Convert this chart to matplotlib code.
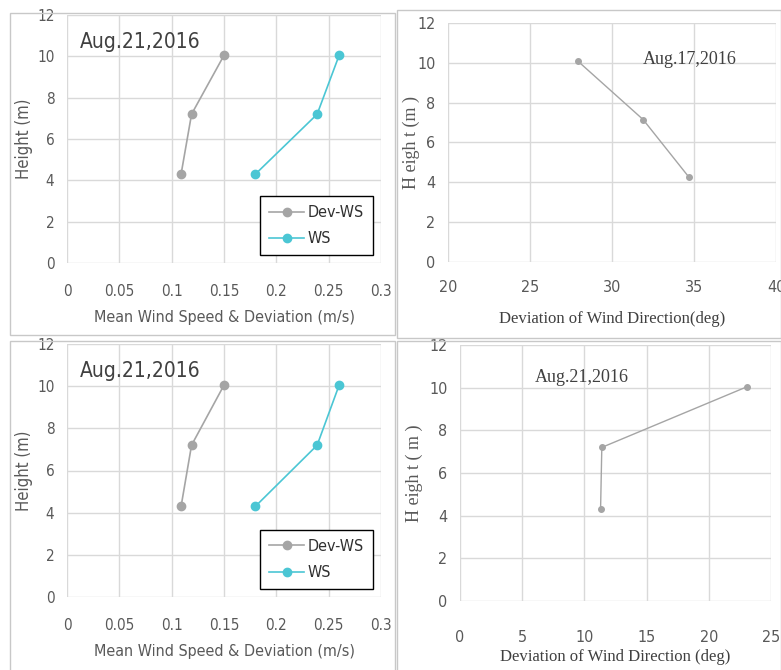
import matplotlib
matplotlib.use("Agg")
import matplotlib.pyplot as plt
from matplotlib.patches import Rectangle

# wind speed profiles (left panels)
heights = [4.3, 7.2, 10.05]
dev_ws = [0.109, 0.119, 0.150]
ws = [0.180, 0.239, 0.260]

# wind direction deviation (right panels)
dir_heights_0817 = [10.1, 7.15, 4.25]
dir_dev_0817 = [27.9, 31.9, 34.7]
dir_heights_0821 = [4.3, 7.2, 10.05]
dir_dev_0821 = [11.3, 11.4, 23.1]

ws_ticks = [0, 0.05, 0.1, 0.15, 0.2, 0.25, 0.3]
ws_ticklabels = ["0", "0.05", "0.1", "0.15", "0.2", "0.25", "0.3"]
h_ticks = [0, 2, 4, 6, 8, 10, 12]

NARROW = ["DejaVu Sans", "Liberation Sans"]
SERIF = ["Liberation Serif", "DejaVu Serif"]
GRAY = "#a5a5a5"
CYAN = "#4bc6d4"
GRID = "#d9d9d9"
TXT = "#595959"

fig = plt.figure(figsize=(7.81, 6.7), dpi=100)

# panel frames (pixel boxes, top-left origin)
for x0, y0, x1, y1 in [(10, 13, 395, 335), (397, 10, 781, 338),
                       (10, 341, 395, 672), (397, 341, 781, 672)]:
    fig.add_artist(Rectangle((x0 / 781, 1 - y1 / 670), (x1 - x0) / 781, (y1 - y0) / 670,
                             transform=fig.transFigure, fill=False,
                             edgecolor="#c8c8c8", linewidth=1.0))


def style(ax, xticks, xlim, ylim, xpad, xticklabels=None, size=11):
    ax.set_xlim(*xlim)
    ax.set_ylim(*ylim)
    ax.set_xticks(xticks)
    if xticklabels is not None:
        ax.set_xticklabels(xticklabels)
    ax.set_yticks(h_ticks)
    ax.grid(True, color=GRID, linewidth=1.0)
    ax.set_axisbelow(True)
    for s in ax.spines.values():
        s.set_visible(False)
    ax.tick_params(length=0, labelsize=size, labelcolor=TXT)
    ax.tick_params(axis="y", pad=9)
    ax.tick_params(axis="x", pad=xpad)
    for lab in ax.get_xticklabels() + ax.get_yticklabels():
        lab.set_family(NARROW)
        lab.set_stretch("condensed")


def ws_panel(rect):
    ax = fig.add_axes(rect)
    style(ax, ws_ticks, (0, 0.3), (0, 12), 15, ws_ticklabels)
    ax.plot(dev_ws, heights, color=GRAY, marker="o", markersize=6,
            linewidth=1.2, label="Dev-WS")
    ax.plot(ws, heights, color=CYAN, marker="o", markersize=6,
            linewidth=1.2, label="WS")
    ax.text(0.0125, 10.7, "Aug.21,2016", fontsize=15, color="#404040",
            family=NARROW, stretch="condensed", va="center")
    ax.set_xlabel("Mean Wind Speed & Deviation (m/s)", fontsize=11.5,
                  color=TXT, family=NARROW, stretch="condensed", labelpad=8)
    ax.set_ylabel("Height (m)", fontsize=12, color=TXT, family=NARROW,
                  stretch="condensed")
    ax.yaxis.set_label_coords(-0.108, 0.5)
    leg = ax.legend(loc="lower right", bbox_to_anchor=(0.973, 0.032),
                    prop={"family": NARROW, "size": 11.5, "stretch": "condensed"},
                    fancybox=False, framealpha=1, edgecolor="black",
                    handlelength=2.2, handletextpad=0.2, borderpad=0.55,
                    labelspacing=0.7, borderaxespad=0)
    leg.get_frame().set_linewidth(1.0)
    for t in leg.get_texts():
        t.set_color("#303030")
    return ax


ws_panel([67 / 781, 1 - 263 / 670, 314 / 781, 248 / 670])
ws_panel([67 / 781, 1 - 597 / 670, 314 / 781, 253 / 670])

# top right: Aug.17
ax = fig.add_axes([448 / 781, 1 - 262 / 670, 328 / 781, 239 / 670])
style(ax, [20, 25, 30, 35, 40], (20, 40), (0, 12), 13, size=11.5)
ax.plot(dir_dev_0817, dir_heights_0817, color=GRAY, marker="o", markersize=4,
        linewidth=1.0)
ax.text(31.9, 10.15, "Aug.17,2016", fontsize=13, color="#404040",
        family=SERIF, va="center")
ax.set_xlabel("Deviation of Wind Direction(deg)", fontsize=12, color="#404040",
              family=SERIF)
ax.xaxis.set_label_coords(0.5, -0.205)
ax.set_ylabel("H eigh t (m )", fontsize=13, color=TXT, family=SERIF)
ax.yaxis.set_label_coords(-0.085, 0.5)

# bottom right: Aug.21
ax = fig.add_axes([460 / 781, 1 - 601 / 670, 311 / 781, 256 / 670])
style(ax, [0, 5, 10, 15, 20, 25], (0, 25), (0, 12), 21, size=11.5)
ax.plot(dir_dev_0821, dir_heights_0821, color=GRAY, marker="o", markersize=4,
        linewidth=1.0)
ax.text(6.0, 10.5, "Aug.21,2016", fontsize=13, color="#404040",
        family=SERIF, va="center")
ax.set_xlabel("Deviation of Wind Direction (deg)", fontsize=12, color="#404040",
              family=SERIF, labelpad=3)
ax.set_ylabel("H eigh t ( m )", fontsize=13, color=TXT, family=SERIF)
ax.yaxis.set_label_coords(-0.12, 0.5)

fig.savefig("out.png", dpi=100)
